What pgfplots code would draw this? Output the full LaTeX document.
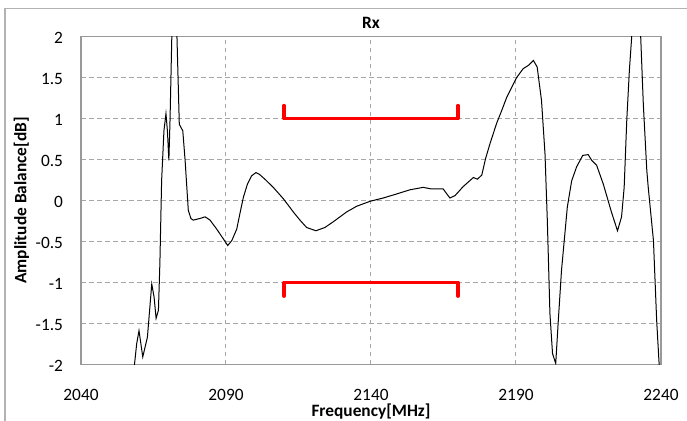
\documentclass[border=0pt]{standalone}
\usepackage{fontspec}
\setmainfont{Carlito}
\usepackage{pgfplots}
\pgfplotsset{compat=1.18}

\begin{document}
\begin{tikzpicture}
\begin{axis}[
  width=435pt, height=245.7pt, scale only axis,
  xmin=2040, xmax=2240, ymin=-2, ymax=2,
  xtick={2040,2090,2140,2190,2240},
  ytick={-2,-1.5,-1,-0.5,0,0.5,1,1.5,2},
  yticklabels={-2,-1.5,-1,-0.5,0,0.5,1,1.5,2},
  /pgf/number format/1000 sep={},
  /pgf/number format/assume math mode=true,
  major tick length=0pt,
  axis line style={draw=gray!80, line width=0.8pt},
  grid=major,
  major grid style={draw=gray!70, line width=0.75pt, dash pattern=on 3.5pt off 2.5pt},
  ticklabel style={font=\fontsize{13}{15}\selectfont},
  xticklabel style={yshift=-15pt},
  yticklabel style={xshift=-10pt, yshift=-1pt},
  title={Rx},
  title style={font=\bfseries\fontsize{13}{15}\selectfont, at={(axis description cs:0.5,1)}, anchor=base},
  xlabel={Frequency[MHz]},
  xlabel style={font=\bfseries\fontsize{13}{15}\selectfont, at={(axis description cs:0.5,0)}, anchor=base, yshift=-39.5pt},
  ylabel={Amplitude Balance[dB]},
  every axis y label/.style={font=\bfseries\fontsize{13}{15}\selectfont, at={(axis description cs:-0.0943,0.5)}, rotate=90, anchor=base},
]
% measured response
\addplot[black, line width=0.75pt] coordinates {
(2058.0,-2.15) (2059.2,-1.75) (2060.0,-1.59) (2061.3,-1.91) (2062.9,-1.67)
(2064.4,-1.02) (2065.2,-1.18) (2065.9,-1.44) (2066.7,-1.34) (2067.2,-0.77)
(2067.8,0.24) (2068.6,0.85) (2069.3,1.06) (2069.8,0.85) (2070.3,0.49)
(2070.7,0.98) (2072.1,3.3) (2073.9,0.93) (2075.1,0.85) (2075.9,0.49)
(2077.0,-0.12) (2077.9,-0.22) (2078.7,-0.24) (2081.0,-0.22) (2082.8,-0.20)
(2084.5,-0.24) (2086.8,-0.35) (2089.1,-0.47) (2090.6,-0.55) (2092.0,-0.49)
(2093.7,-0.35) (2094.8,-0.16) (2096.0,0.04) (2097.4,0.20) (2098.8,0.30)
(2100.3,0.34) (2101.5,0.32) (2103.4,0.26) (2106.3,0.16) (2109.8,0.02)
(2113.2,-0.14) (2115.5,-0.24) (2117.8,-0.33) (2121.0,-0.37) (2124.1,-0.33)
(2127.0,-0.26) (2131.6,-0.14) (2135.1,-0.07) (2139.7,-0.01) (2144.2,0.03)
(2148.9,0.08) (2153.4,0.13) (2158.0,0.16) (2160.9,0.14) (2164.9,0.14)
(2167.2,0.03) (2169.0,0.06) (2171.8,0.17) (2175.3,0.28) (2176.7,0.26)
(2178.2,0.31) (2179.5,0.51) (2181.0,0.69) (2183.3,0.94) (2185.1,1.10)
(2186.8,1.26) (2188.5,1.38) (2190.2,1.50) (2192.5,1.61) (2194.3,1.65)
(2196.0,1.71) (2197.3,1.63) (2198.8,1.22) (2200.0,0.57) (2200.8,-0.24)
(2201.7,-1.38) (2202.6,-1.87) (2203.7,-1.99) (2204.6,-1.46) (2205.7,-0.85)
(2207.7,-0.08) (2209.2,0.24) (2210.9,0.41) (2213.0,0.55) (2214.9,0.56)
(2216.1,0.49) (2217.8,0.43) (2220.1,0.20) (2222.9,-0.14) (2225.0,-0.37)
(2226.4,-0.20) (2227.3,0.16) (2228.2,0.98) (2229.1,1.59) (2229.9,2.0)
(2231.6,2.9) (2233.0,2.0) (2233.9,1.18) (2235.1,0.37) (2235.6,0.16)
(2237.4,-0.49) (2238.5,-1.46) (2239.6,-2.15)
};
% spec limits
\addplot[red, line width=2.4pt, line cap=round, line join=round] coordinates {
(2110,1.16) (2110,1) (2170,1) (2170,1.16)
};
\addplot[red, line width=2.4pt, line cap=round, line join=round] coordinates {
(2110,-1.17) (2110,-1) (2170,-1) (2170,-1.17)
};
\end{axis}
\draw[gray!60, line width=0.8pt] (-57pt,-45pt) -- (-57pt,267pt) -- (460pt,267pt);
\pgfresetboundingbox
\path[use as bounding box] (-60.75pt,-42.5pt) rectangle (454.5pt,273.2pt);
\end{tikzpicture}
\end{document}
